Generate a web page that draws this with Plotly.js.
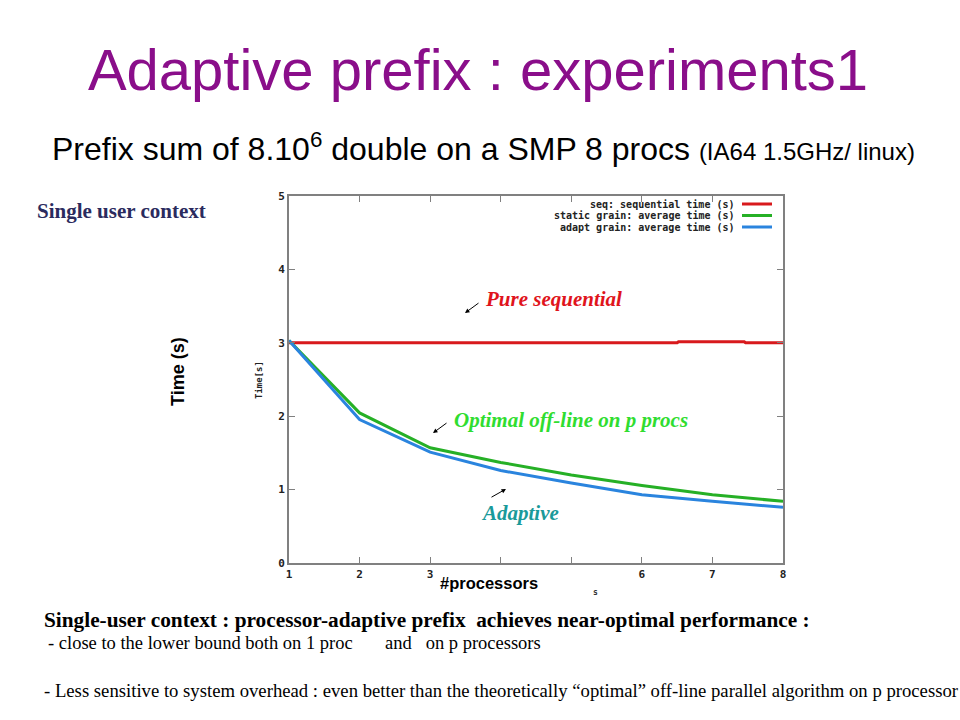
<!DOCTYPE html>
<html>
<head>
<meta charset="utf-8">
<script src="https://cdn.plot.ly/plotly-3.0.1.min.js"></script>
<style>html,body{margin:0;padding:0;background:#fff;}#chart{width:960px;height:720px;}</style>
</head>
<body>
<div id="chart"></div>
<script>
// ---- data ----
var procs = [1, 2, 3, 4, 5, 6, 7, 8];
var seqX = [1, 2, 3, 4, 5, 6, 6.5, 6.52, 7.45, 7.47, 8];
var seqTime = [3.0, 3.0, 3.0, 3.0, 3.0, 3.0, 3.0, 3.015, 3.015, 3.0, 3.0];
var staticTime = [3.03, 2.045, 1.57, 1.37, 1.2, 1.055, 0.93, 0.84];
var adaptTime = [3.03, 1.955, 1.51, 1.26, 1.09, 0.93, 0.84, 0.76];
var seriesNames = ["seq: sequential time (s)", "static grain: average time (s)", "adapt grain: average time (s)"];
var xTickVals = [1, 2, 3, 4, 5, 6, 7, 8];
var xTickText = ["1", "2", "3", "", "", "6", "7", "8"];
var yTickVals = [0, 1, 2, 3, 4, 5];
var yTickText = ["0", "1", "2", "3", "4", "5"];

var colors = ["#d8191c", "#26b026", "#2a84de"];

// plot area in pixels: x 289..783, y 196..563
var L = 289, R = 783, T = 196, B = 563;
function px(x) { return (x - L) / (R - L); }
function py(y) { return (B - y) / (B - T); }

var traces = [
  {x: seqX, y: seqTime, mode: "lines", line: {color: colors[0], width: 3}, name: seriesNames[0], hoverinfo: "skip"},
  {x: procs, y: staticTime, mode: "lines", line: {color: colors[1], width: 3}, name: seriesNames[1], hoverinfo: "skip"},
  {x: procs, y: adaptTime, mode: "lines", line: {color: colors[2], width: 3}, name: seriesNames[2], hoverinfo: "skip"}
];

var mono = "DejaVu Sans Mono";
var ann = [];
var shapes = [];

function txt(x, y, text, font, xanchor, extra) {
  var a = {xref: "paper", yref: "paper", x: px(x), y: py(y), xanchor: xanchor || "center", yanchor: "middle",
    text: text, showarrow: false, font: font};
  if (extra) for (var k in extra) a[k] = extra[k];
  ann.push(a);
}

// gnuplot-style legend (text right aligned, sample on right)
for (var i = 0; i < 3; i++) {
  var ly = 204 + i * 11.5;
  txt(737, ly, "<b>" + seriesNames[i] + "</b>", {family: mono, size: 10, color: "#222"}, "right");
  shapes.push({type: "line", xref: "paper", yref: "paper", x0: px(742), x1: px(772), y0: py(ly), y1: py(ly),
    line: {color: colors[i], width: 3}});
}

// curve labels
txt(483, 299, "<b><i>Pure sequential</i></b>", {family: "Liberation Serif", size: 21, color: "#e0141c"}, "left");
txt(452, 420, "<b><i>Optimal off-line on p procs</i></b>", {family: "Liberation Serif", size: 21, color: "#30dd30"}, "left");
txt(479, 513, "<b><i>Adaptive</i></b>", {family: "Liberation Serif", size: 21, color: "#1a9a9a"}, "left");

// small arrows
function arrow(hx, hy, tx, ty) {
  ann.push({xref: "paper", yref: "paper", x: px(hx), y: py(hy), ax: tx - hx, ay: ty - hy, text: "",
    showarrow: true, arrowhead: 2, arrowsize: 0.9, arrowwidth: 1, arrowcolor: "#000"});
}
arrow(465, 313, 480, 302);
arrow(433, 433, 448, 422);
arrow(506, 489, 490, 498);

// axis labels
txt(259, 380, "<b>Time[s]</b>", {family: mono, size: 9, color: "#222"}, "center", {textangle: -90});
txt(178, 372, "<b>Time (s)</b>", {family: "Liberation Sans", size: 18, color: "#000"}, "center", {textangle: -90});
txt(489, 583, "<b>#processors</b>", {family: "Liberation Sans", size: 16.5, color: "#000"}, "center");
txt(595, 592, "<b>s</b>", {family: mono, size: 8, color: "#333"}, "center");

// slide texts
txt(35, 211, "<b>Single user context</b>", {family: "Liberation Serif", size: 21, color: "#2b2b5e"}, "left");
txt(50, 147, "Prefix sum of 8.10<sup>6</sup> double on a SMP 8 procs <span style='font-size:24px'>(IA64 1.5GHz/ linux)</span>",
  {family: "Liberation Sans", size: 32, color: "#000"}, "left");
txt(42, 620, "<b>Single-user context : processor-adaptive prefix  achieves near-optimal performance :</b>",
  {family: "Liberation Serif", size: 21.3, color: "#000"}, "left");
txt(46, 643, "- close to the lower bound both on 1 proc       and   on p processors",
  {family: "Liberation Serif", size: 18.5, color: "#000"}, "left");
txt(42, 690, "- Less sensitive to system overhead : even better than the theoretically \u201coptimal\u201d off-line parallel algorithm on p processor",
  {family: "Liberation Serif", size: 18.7, color: "#000"}, "left");

var axisCommon = {
  showgrid: false, zeroline: false, showline: true, linecolor: "#808080", linewidth: 2,
  mirror: "allticks", ticks: "inside", ticklen: 6, tickcolor: "#808080", tickwidth: 1,
  tickfont: {family: mono, size: 11, color: "#222", weight: "bold"}, fixedrange: true
};

var layout = {
  width: 960, height: 720,
  margin: {l: L, r: 960 - R, t: T, b: 720 - B},
  paper_bgcolor: "#fff", plot_bgcolor: "#fff",
  showlegend: false,
  title: {text: "Adaptive prefix : experiments1", x: 478 / 960, xanchor: "center", y: 1 - 70 / 720, yanchor: "middle",
    font: {family: "Liberation Sans", size: 58, color: "#8a0e8a"}},
  xaxis: Object.assign({}, axisCommon, {range: [1, 8], tickvals: xTickVals, ticktext: xTickText}),
  yaxis: Object.assign({}, axisCommon, {range: [0, 5], tickvals: yTickVals, ticktext: yTickText}),
  annotations: ann,
  shapes: shapes
};

Plotly.newPlot("chart", traces, layout, {displayModeBar: false, staticPlot: true});
</script>
</body>
</html>
